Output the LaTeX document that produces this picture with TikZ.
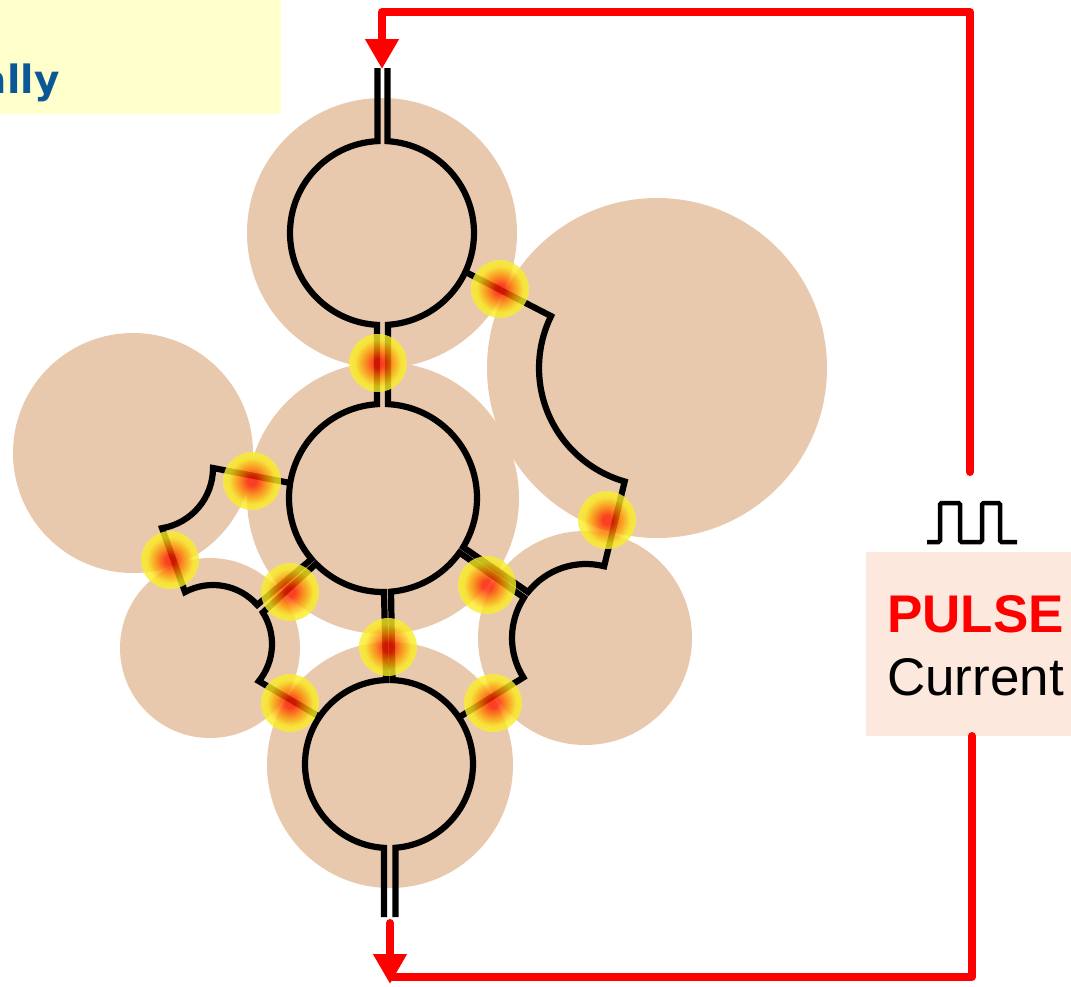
\documentclass[tikz,border=0pt]{standalone}
\usepackage{fontspec}
\setmainfont{Liberation Sans}
\newfontfamily\notefont{DejaVu Sans}
\usepackage{tikz}
\usetikzlibrary{calc,arrows.meta}

\definecolor{graincol}{RGB}{232,201,173}
\definecolor{notebg}{RGB}{255,255,204}
\definecolor{noteblue}{RGB}{12,88,150}
\definecolor{pulsebg}{RGB}{252,232,220}
\definecolor{hotred}{RGB}{255,30,0}
\definecolor{hotorange}{RGB}{255,140,0}
\definecolor{hotyellow}{RGB}{250,235,30}

\pgfdeclareradialshading{hotspot}{\pgfpoint{0bp}{0bp}}{%
  color(0bp)=(hotred); color(4bp)=(hotred); color(12bp)=(hotorange);
  color(20bp)=(hotyellow); color(25bp)=(hotyellow!92!white); color(50bp)=(hotyellow!92!white)}

\tikzset{
  grain/.style={fill=graincol},
  wall/.style={draw=black, line width=6.2pt},
  hot/.style={shading=hotspot, opacity=0.8},
  feed/.style={draw=red, line width=8pt, line join=round, line cap=round},
  tip/.style={-{Triangle[width=32pt,length=30pt]}}
}

\begin{document}
\begin{tikzpicture}[x=1pt, y=-1pt]
  \useasboundingbox (0,0) rectangle (1071,986);
  \clip (0,0) rectangle (1071,986);

  \fill[notebg] (0,0) rectangle (281,114);
  \node[anchor=base east, text=noteblue, font=\notefont\fontsize{39}{44}\selectfont\bfseries] (NT) at (63,93) {ally};

  % grains
  \fill[grain] (382,233) circle (135);
  \fill[grain] (657,368) circle (170);
  \fill[grain] (133,453) circle (120);
  \fill[grain] (383,498) circle (136);
  \fill[grain] (210,648) circle (90);
  \fill[grain] (585,638) circle (107);
  \fill[grain] (390,765) circle (123);

  % centres of the current loops
  \coordinate (T) at (382,233);
  \coordinate (C) at (383,498);
  \coordinate (B) at (389,764);
  \coordinate (L) at (152,468);
  \coordinate (S) at (213,644);
  \coordinate (D) at (586,638);
  \coordinate (E) at (657,368);

  \draw[wall] (377.5,68) -- ($(T)+(-92.8:92)$) arc[start angle=-92.8, end angle=-266.9, radius=92]
    -- ($(C)+(-93.7:94)$) arc[start angle=-93.7, end angle=-220.5, radius=94]
    -- ($(S)+(-41.5:59)$) arc[start angle=-41.5, end angle=-118.3, radius=59]
    -- ($(L)+(80.5:61)$) arc[start angle=80.5, end angle=0, radius=61]
    -- ($(C)+(189.2:94)$);
  \draw[wall] (387.5,68) -- ($(T)+(-86.6:92)$) arc[start angle=-86.6, end angle=86.3, radius=92]
    -- ($(C)+(-87:94)$) arc[start angle=-87, end angle=31.5, radius=94]
    -- ($(D)+(-141.6:74)$) arc[start angle=-141.6, end angle=-75.8, radius=74]
    -- ($(E)+(105.9:118)$) arc[start angle=105.9, end angle=206.1, radius=118]
    -- ($(T)+(25:92)$);
  \draw[wall] (384,917) -- ($(B)+(93.4:84)$) arc[start angle=93.4, end angle=268, radius=84]
    -- ($(C)+(89.4:94)$) arc[start angle=89.4, end angle=135.5, radius=94]
    -- ($(S)+(-32.3:59)$) arc[start angle=-32.3, end angle=39, radius=59]
    -- ($(B)+(214.2:84)$);
  \draw[wall] (395.5,917) -- ($(B)+(85.6:84)$) arc[start angle=85.6, end angle=-87.6, radius=84]
    -- ($(C)+(85.1:94)$) arc[start angle=85.1, end angle=35.5, radius=94]
    -- ($(D)+(213.1:74)$) arc[start angle=213.1, end angle=147.8, radius=74]
    -- ($(B)+(-33.7:84)$);

  % hot spots at the contacts
  \shade[hot] (378,363) circle (29);
  \shade[hot] (500,289) circle (29);
  \shade[hot] (252,481) circle (29);
  \shade[hot] (170,560) circle (29);
  \shade[hot] (290,592) circle (29);
  \shade[hot] (388,647) circle (29);
  \shade[hot] (487,585) circle (29);
  \shade[hot] (607,520) circle (29);
  \shade[hot] (290,703) circle (29);
  \shade[hot] (493,703) circle (29);

  % pulse source
  \node[fill=pulsebg, minimum width=210pt, minimum height=184pt, inner sep=0pt] (PB) at (971,644) {};
  \node[anchor=base, text=red, font=\fontsize{53}{60}\selectfont\bfseries] (PU) at (975.5,632) {PULSE};
  \node[anchor=base, font=\fontsize{53}{60}\selectfont] (CU) at (975.5,695) {Current};
  \draw[line width=4.5pt, rounded corners=1.5pt] (927,542) -- (940,542) -- (940,503) -- (960,503) -- (960,542)
    -- (982,542) -- (982,503) -- (1000,503) -- (1000,542) -- (1017,542);

  \coordinate (PT) at (970,472);
  \coordinate (IN) at (382,69);
  \coordinate (OUT) at (390,984);
  \draw[feed, tip] (PT) -- (970,12) -- (382,12) -- (IN);
  \draw[feed] (972,736) -- (972,977) -- (393,977);
  \draw[feed, tip] (390,923) -- (OUT);
\end{tikzpicture}
\end{document}
